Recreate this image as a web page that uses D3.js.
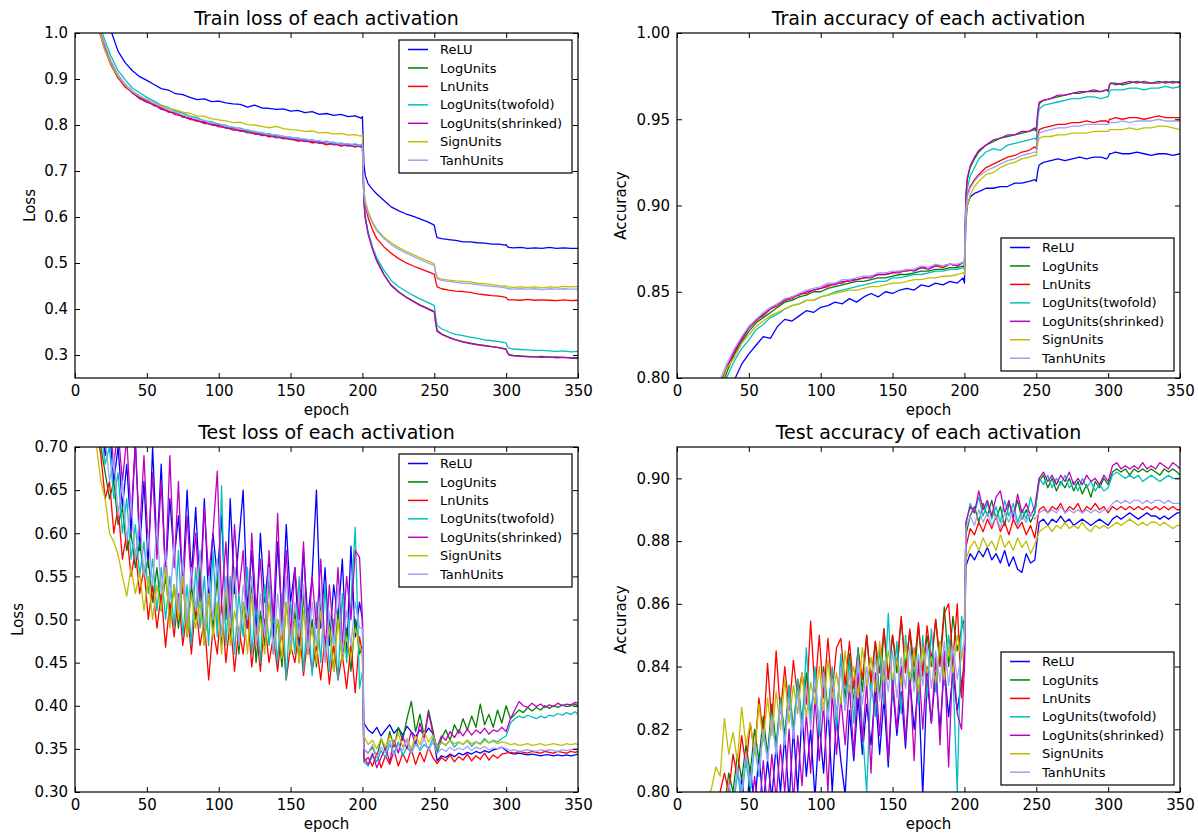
<!DOCTYPE html>
<html><head><meta charset="utf-8">
<script src="https://cdn.jsdelivr.net/npm/d3@7"></script>
<style>body{margin:0;background:#fff;} svg{display:block;font-family:"DejaVu Sans",sans-serif;}</style>
</head><body><svg id="chart" width="1198" height="836"></svg>
<script>
const seriesNames = ["ReLU","LogUnits","LnUnits","LogUnits(twofold)","LogUnits(shrinked)","SignUnits","TanhUnits"];
const seriesColors = ["#0000ff","#008000","#ff0000","#00bfbf","#bf00bf","#bfbf00","#a0a0f5"];
const xTickValues = [0,50,100,150,200,250,300,350];
const trainLossTicks = [0.3,0.4,0.5,0.6,0.7,0.8,0.9,1.0];
const trainAccTicks = [0.80,0.85,0.90,0.95,1.00];
const testLossTicks = [0.30,0.35,0.40,0.45,0.50,0.55,0.60,0.65,0.70];
const testAccTicks = [0.80,0.82,0.84,0.86,0.88,0.90];

const trainEpochs = [0,5,10,15,20,25,30,35,40,45, 50,55,60,65,70,75,80,85,90,95, 100,105,110,115,120,125,130,135,140,145, 150,155,160,165,170,175,180,185,190,195, 199,
 200,201,202,204,207,210,215,220,225,230,235,240,245,249,
 250,251,252,255,260,265,270,275,280,285,290,295,299,
 300,301,302,305,310,315,320,325,330,335,340,345,350];
const testEpochs = [0,3,6,9,12,15,18,21,24,27, 30,33,36,39,42,45,48,51,54,57, 60,63,66,69,72,75,78,81,84,87, 90,93,96,99,102,105,108,111,114,117, 120,123,126,129,132,135,138,141,144,147, 150,153,156,159,162,165,168,171,174,177, 180,183,186,189,192,195,198,
 200,
 201,204,207,210,213,216,219,222,225,228,231,234,237,240,243,246,249,
 252,255,258,261,264,267,270,273,276,279,282,285,288,291,294,297,300,
 303,306,309,312,315,318,321,324,327,330,333,336,339,342,345,348,350];

// ---------- Train loss ----------
const trainLossReLU = [1.60,1.35,1.20,1.10,1.04,1.005,0.960,0.935,0.918,0.905,
 0.897,0.888,0.879,0.876,0.868,0.866,0.860,0.855,0.857,0.851,
 0.852,0.848,0.846,0.845,0.839,0.843,0.837,0.836,0.834,0.835,
 0.830,0.832,0.827,0.829,0.823,0.825,0.821,0.823,0.818,0.820, 0.815,
 0.818,0.715,0.690,0.672,0.660,0.650,0.636,0.622,0.614,0.607,0.602,0.596,0.590,0.584,
 0.582,0.566,0.555,0.553,0.551,0.549,0.546,0.546,0.544,0.543,0.541,0.541,0.539,
 0.540,0.535,0.534,0.533,0.534,0.532,0.533,0.532,0.534,0.532,0.533,0.532,0.532];
const trainLossLog = [1.50,1.28,1.13,1.03,0.975,0.935,0.905,0.885,0.872,0.860,
 0.852,0.843,0.837,0.829,0.826,0.818,0.814,0.809,0.806,0.801,
 0.799,0.794,0.792,0.787,0.786,0.781,0.780,0.775,0.776,0.771,
 0.770,0.766,0.767,0.762,0.763,0.758,0.760,0.755,0.757,0.753, 0.755,
 0.752,0.640,0.600,0.565,0.532,0.506,0.475,0.452,0.438,0.427,0.418,0.409,0.402,0.396,
 0.395,0.370,0.353,0.346,0.339,0.333,0.329,0.326,0.323,0.321,0.318,0.316,0.314,
 0.313,0.305,0.301,0.299,0.298,0.297,0.296,0.297,0.295,0.296,0.295,0.294,0.294];
const trainLossLn = [1.48,1.27,1.12,1.025,0.970,0.930,0.903,0.882,0.871,0.857,
 0.853,0.842,0.838,0.828,0.827,0.817,0.815,0.808,0.807,0.800,
 0.800,0.793,0.793,0.786,0.788,0.780,0.781,0.774,0.777,0.770,
 0.772,0.765,0.767,0.761,0.763,0.757,0.761,0.754,0.758,0.752, 0.756,
 0.754,0.655,0.625,0.598,0.572,0.553,0.535,0.521,0.510,0.501,0.494,0.488,0.482,0.477,
 0.476,0.460,0.448,0.444,0.441,0.439,0.438,0.436,0.433,0.431,0.429,0.428,0.426,
 0.425,0.421,0.420,0.420,0.419,0.421,0.419,0.420,0.419,0.418,0.420,0.418,0.419];
const trainLossTwofold = [1.55,1.31,1.16,1.05,0.990,0.950,0.918,0.898,0.880,0.870,
 0.860,0.852,0.843,0.838,0.830,0.826,0.819,0.816,0.809,0.807,
 0.802,0.799,0.794,0.793,0.787,0.786,0.781,0.781,0.776,0.776,
 0.771,0.772,0.767,0.768,0.763,0.765,0.759,0.761,0.756,0.759, 0.755,
 0.760,0.632,0.598,0.566,0.535,0.511,0.484,0.462,0.449,0.439,0.430,0.422,0.415,0.409,
 0.408,0.382,0.364,0.357,0.350,0.345,0.342,0.339,0.336,0.333,0.331,0.329,0.327,
 0.326,0.318,0.315,0.313,0.312,0.311,0.310,0.310,0.309,0.308,0.309,0.307,0.308];
const trainLossShrinked = [1.52,1.29,1.14,1.035,0.978,0.932,0.902,0.886,0.869,0.858,
 0.849,0.845,0.834,0.831,0.822,0.820,0.812,0.811,0.803,0.803,
 0.796,0.795,0.789,0.789,0.783,0.783,0.777,0.778,0.772,0.773,
 0.768,0.769,0.764,0.765,0.760,0.762,0.757,0.758,0.754,0.756, 0.752,
 0.758,0.635,0.596,0.562,0.530,0.504,0.474,0.451,0.437,0.426,0.417,0.408,0.401,0.395,
 0.394,0.368,0.351,0.345,0.338,0.333,0.328,0.325,0.322,0.320,0.318,0.316,0.313,
 0.312,0.304,0.300,0.298,0.297,0.296,0.296,0.295,0.296,0.294,0.295,0.293,0.292];
const trainLossSign = [1.50,1.27,1.12,1.03,0.970,0.932,0.905,0.886,0.872,0.862,
 0.855,0.848,0.842,0.836,0.833,0.828,0.825,0.820,0.819,0.814,
 0.811,0.809,0.805,0.806,0.801,0.800,0.797,0.794,0.797,0.792,
 0.790,0.789,0.786,0.787,0.783,0.784,0.780,0.782,0.778,0.779, 0.776,
 0.779,0.660,0.635,0.612,0.590,0.573,0.556,0.544,0.534,0.526,0.519,0.512,0.505,0.500,
 0.498,0.480,0.469,0.465,0.463,0.461,0.460,0.459,0.456,0.455,0.453,0.451,0.450,
 0.450,0.448,0.448,0.447,0.448,0.447,0.448,0.446,0.448,0.447,0.449,0.448,0.449];
const trainLossTanh = [1.53,1.30,1.15,1.04,0.982,0.940,0.910,0.889,0.874,0.864,
 0.855,0.847,0.840,0.833,0.828,0.822,0.818,0.812,0.810,0.804,
 0.803,0.797,0.796,0.791,0.790,0.785,0.784,0.779,0.779,0.775,
 0.774,0.770,0.770,0.766,0.766,0.762,0.763,0.758,0.760,0.755, 0.757,
 0.757,0.650,0.628,0.607,0.586,0.570,0.553,0.540,0.530,0.522,0.515,0.508,0.501,0.496,
 0.495,0.477,0.466,0.462,0.460,0.458,0.456,0.455,0.453,0.451,0.449,0.448,0.446,
 0.446,0.444,0.444,0.443,0.444,0.443,0.444,0.442,0.444,0.443,0.444,0.443,0.443];

// ---------- Train accuracy ----------
const trainAccReLU = [0.45,0.58,0.65,0.70,0.735,0.760,0.778,0.791,0.799,0.808,
 0.814,0.819,0.824,0.823,0.830,0.834,0.833,0.836,0.839,0.838,
 0.841,0.842,0.844,0.843,0.846,0.844,0.847,0.849,0.847,0.850,
 0.849,0.851,0.852,0.851,0.854,0.853,0.855,0.854,0.856,0.855, 0.858,
 0.855,0.890,0.900,0.905,0.907,0.908,0.910,0.910,0.911,0.911,0.913,0.913,0.914,0.915,
 0.914,0.920,0.9235,0.925,0.926,0.927,0.926,0.927,0.928,0.927,0.928,0.928,0.927,
 0.928,0.930,0.930,0.931,0.930,0.930,0.931,0.930,0.929,0.930,0.930,0.929,0.930];
const trainAccLog = [0.48,0.61,0.68,0.725,0.757,0.778,0.793,0.804,0.814,0.821,
 0.827,0.832,0.835,0.838,0.841,0.844,0.845,0.847,0.848,0.850,
 0.850,0.852,0.853,0.854,0.855,0.856,0.856,0.857,0.858,0.858,
 0.859,0.860,0.860,0.861,0.862,0.862,0.863,0.863,0.864,0.864, 0.865,
 0.864,0.905,0.915,0.922,0.927,0.931,0.935,0.937,0.939,0.940,0.941,0.942,0.943,0.944,
 0.943,0.953,0.959,0.961,0.962,0.963,0.964,0.965,0.965,0.966,0.966,0.966,0.967,
 0.966,0.970,0.971,0.971,0.970,0.971,0.972,0.971,0.971,0.972,0.971,0.972,0.971];
const trainAccLn = [0.49,0.62,0.69,0.732,0.762,0.782,0.796,0.807,0.815,0.823,
 0.829,0.833,0.837,0.840,0.842,0.845,0.846,0.849,0.849,0.851,
 0.852,0.853,0.855,0.855,0.857,0.857,0.858,0.859,0.860,0.860,
 0.861,0.862,0.862,0.863,0.864,0.864,0.865,0.864,0.866,0.865, 0.867,
 0.866,0.898,0.906,0.911,0.915,0.918,0.922,0.924,0.926,0.928,0.929,0.931,0.932,0.934,
 0.933,0.940,0.944,0.945,0.946,0.947,0.947,0.948,0.948,0.949,0.948,0.949,0.949,
 0.948,0.950,0.950,0.951,0.950,0.951,0.951,0.950,0.951,0.952,0.951,0.951,0.951];
const trainAccTwofold = [0.47,0.60,0.67,0.72,0.752,0.774,0.790,0.801,0.810,0.817,
 0.822,0.828,0.831,0.835,0.837,0.840,0.842,0.843,0.845,0.845,
 0.847,0.848,0.850,0.851,0.852,0.853,0.854,0.855,0.856,0.856,
 0.858,0.858,0.859,0.860,0.860,0.861,0.862,0.862,0.863,0.863, 0.864,
 0.863,0.900,0.910,0.917,0.922,0.927,0.931,0.933,0.932,0.935,0.936,0.937,0.938,0.939,
 0.938,0.950,0.956,0.958,0.959,0.960,0.961,0.962,0.962,0.963,0.963,0.962,0.963,
 0.963,0.966,0.967,0.967,0.967,0.968,0.968,0.967,0.968,0.968,0.969,0.968,0.969];
const trainAccShrinked = [0.49,0.62,0.69,0.733,0.763,0.783,0.797,0.806,0.816,0.822,
 0.829,0.834,0.836,0.840,0.843,0.845,0.847,0.848,0.850,0.851,
 0.852,0.854,0.854,0.856,0.856,0.857,0.858,0.858,0.860,0.860,
 0.861,0.861,0.863,0.862,0.864,0.863,0.865,0.865,0.866,0.865, 0.867,
 0.866,0.906,0.916,0.923,0.928,0.932,0.935,0.938,0.939,0.941,0.941,0.943,0.943,0.945,
 0.944,0.954,0.960,0.961,0.962,0.964,0.964,0.965,0.966,0.966,0.967,0.966,0.967,
 0.967,0.970,0.971,0.970,0.971,0.972,0.971,0.972,0.971,0.971,0.972,0.971,0.972];
const trainAccSign = [0.48,0.61,0.68,0.728,0.760,0.781,0.795,0.806,0.812,0.820,
 0.825,0.830,0.833,0.836,0.838,0.840,0.842,0.843,0.845,0.845,
 0.847,0.848,0.849,0.850,0.851,0.851,0.852,0.853,0.853,0.854,
 0.855,0.855,0.856,0.857,0.857,0.858,0.858,0.859,0.859,0.860, 0.861,
 0.860,0.893,0.900,0.906,0.911,0.914,0.918,0.919,0.922,0.924,0.925,0.927,0.928,0.929,
 0.929,0.936,0.939,0.940,0.940,0.941,0.941,0.942,0.942,0.942,0.943,0.943,0.943,
 0.943,0.944,0.944,0.944,0.944,0.945,0.944,0.945,0.945,0.946,0.946,0.945,0.944];
const trainAccTanh = [0.50,0.63,0.70,0.738,0.766,0.785,0.799,0.809,0.817,0.824,
 0.830,0.834,0.838,0.841,0.843,0.846,0.847,0.849,0.851,0.852,
 0.853,0.855,0.855,0.857,0.857,0.858,0.859,0.859,0.861,0.861,
 0.862,0.862,0.863,0.863,0.865,0.864,0.866,0.865,0.866,0.866, 0.867,
 0.866,0.898,0.905,0.910,0.914,0.917,0.920,0.922,0.924,0.926,0.927,0.929,0.930,0.931,
 0.931,0.938,0.942,0.943,0.944,0.945,0.945,0.946,0.946,0.947,0.947,0.947,0.947,
 0.947,0.948,0.948,0.948,0.949,0.948,0.949,0.949,0.949,0.950,0.949,0.949,0.949];

// ---------- Test loss ----------
const testLossReLU = [1.40,1.10,0.95,0.86,0.80,0.76,0.74,0.69,0.72,0.66,
 0.70,0.63,0.68,0.60,0.71,0.58,0.66,0.56,0.70,0.58,
 0.68,0.55,0.64,0.57,0.62,0.54,0.65,0.55,0.63,0.53,
 0.64,0.52,0.60,0.55,0.62,0.50,0.64,0.53,0.59,0.65,
 0.51,0.58,0.49,0.60,0.52,0.57,0.48,0.59,0.50,0.61,
 0.52,0.56,0.47,0.58,0.50,0.55,0.65,0.49,0.56,0.47,
 0.54,0.50,0.57,0.46,0.585,0.48,0.52,
 0.50,
 0.38,0.372,0.368,0.375,0.365,0.372,0.378,0.368,0.374,0.366,0.376,0.370,0.364,0.372,0.366,0.374,0.368,
 0.336,0.342,0.340,0.344,0.341,0.345,0.343,0.346,0.344,0.347,0.345,0.348,0.346,0.349,0.350,0.352,0.348,
 0.345,0.344,0.345,0.344,0.343,0.344,0.343,0.342,0.343,0.343,0.342,0.343,0.342,0.343,0.342,0.343,0.344];
const testLossLog = [1.35,1.05,0.92,0.84,0.78,0.74,0.70,0.67,0.64,0.66,
 0.61,0.63,0.58,0.60,0.56,0.59,0.55,0.57,0.52,0.56,
 0.51,0.55,0.50,0.54,0.49,0.55,0.48,0.54,0.50,0.56,
 0.47,0.53,0.49,0.55,0.47,0.53,0.48,0.56,0.46,0.52,
 0.49,0.54,0.45,0.51,0.47,0.55,0.46,0.50,0.445,0.52,
 0.47,0.51,0.45,0.53,0.46,0.50,0.445,0.52,0.46,0.50,
 0.44,0.51,0.455,0.49,0.44,0.50,0.46,
 0.47,
 0.35,0.345,0.352,0.340,0.362,0.348,0.37,0.352,0.375,0.36,0.385,0.405,0.37,0.39,0.365,0.395,0.372,
 0.345,0.362,0.372,0.36,0.378,0.368,0.385,0.372,0.388,0.375,0.402,0.378,0.39,0.375,0.395,0.38,0.40,
 0.385,0.39,0.395,0.392,0.398,0.394,0.398,0.395,0.40,0.397,0.40,0.398,0.401,0.399,0.40,0.402,0.40];
const testLossLn = [1.30,1.02,0.90,0.82,0.76,0.72,0.69,0.64,0.66,0.60,
 0.63,0.57,0.60,0.55,0.58,0.53,0.56,0.50,0.54,0.49,
 0.53,0.468,0.52,0.48,0.53,0.47,0.51,0.46,0.52,0.47,
 0.50,0.43,0.49,0.46,0.52,0.45,0.50,0.44,0.49,0.46,
 0.51,0.445,0.49,0.44,0.50,0.45,0.48,0.44,0.49,0.43,
 0.47,0.45,0.49,0.435,0.48,0.44,0.47,0.43,0.48,0.425,
 0.47,0.43,0.46,0.42,0.47,0.415,0.48,
 0.46,
 0.335,0.34,0.33,0.345,0.328,0.342,0.332,0.348,0.33,0.345,0.334,0.35,0.332,0.346,0.335,0.352,0.34,
 0.333,0.34,0.336,0.343,0.335,0.341,0.337,0.344,0.336,0.342,0.338,0.345,0.337,0.343,0.339,0.344,0.345,
 0.346,0.345,0.347,0.346,0.345,0.347,0.346,0.345,0.347,0.346,0.345,0.347,0.346,0.345,0.347,0.346,0.347];
const testLossTwofold = [1.38,1.08,0.94,0.85,0.79,0.75,0.72,0.68,0.70,0.64,
 0.67,0.60,0.64,0.57,0.61,0.55,0.59,0.53,0.57,0.51,
 0.56,0.50,0.55,0.49,0.58,0.48,0.54,0.47,0.56,0.49,
 0.55,0.47,0.58,0.48,0.655,0.47,0.55,0.46,0.53,0.48,
 0.56,0.46,0.52,0.45,0.54,0.47,0.51,0.45,0.53,0.43,
 0.52,0.46,0.55,0.44,0.51,0.435,0.52,0.45,0.54,0.44,
 0.50,0.43,0.53,0.45,0.52,0.607,0.42,
 0.44,
 0.335,0.33,0.342,0.335,0.348,0.34,0.355,0.345,0.358,0.342,0.352,0.345,0.36,0.348,0.355,0.35,0.362,
 0.35,0.358,0.354,0.36,0.352,0.358,0.355,0.36,0.353,0.358,0.356,0.362,0.357,0.36,0.358,0.362,0.365,
 0.38,0.385,0.388,0.386,0.389,0.387,0.385,0.388,0.386,0.389,0.388,0.391,0.389,0.392,0.39,0.393,0.39];
const testLossShrinked = [1.45,1.12,0.97,0.88,0.81,0.77,0.74,0.70,0.73,0.68,
 0.72,0.66,0.71,0.62,0.70,0.60,0.69,0.58,0.67,0.57,
 0.66,0.55,0.69,0.56,0.66,0.53,0.62,0.54,0.60,0.52,
 0.63,0.55,0.60,0.672,0.52,0.59,0.50,0.61,0.53,0.58,
 0.49,0.60,0.51,0.57,0.48,0.58,0.50,0.623,0.49,0.58,
 0.48,0.56,0.50,0.59,0.47,0.55,0.49,0.57,0.46,0.54,
 0.48,0.56,0.47,0.55,0.50,0.58,0.572,
 0.50,
 0.34,0.332,0.345,0.328,0.34,0.352,0.335,0.36,0.345,0.365,0.35,0.37,0.355,0.38,0.362,0.392,0.368,
 0.352,0.365,0.36,0.37,0.363,0.372,0.365,0.373,0.366,0.372,0.368,0.374,0.367,0.372,0.37,0.375,0.37,
 0.385,0.395,0.405,0.40,0.398,0.403,0.399,0.402,0.398,0.401,0.399,0.403,0.40,0.402,0.401,0.404,0.403];
const testLossSign = [1.20,0.95,0.84,0.77,0.73,0.70,0.66,0.64,0.60,0.59,
 0.575,0.55,0.527,0.56,0.53,0.555,0.51,0.55,0.50,0.54,
 0.51,0.56,0.49,0.54,0.50,0.55,0.48,0.53,0.49,0.52,
 0.47,0.53,0.48,0.52,0.46,0.54,0.47,0.51,0.48,0.52,
 0.46,0.53,0.47,0.50,0.46,0.52,0.47,0.50,0.455,0.52,
 0.46,0.50,0.45,0.51,0.46,0.49,0.45,0.51,0.46,0.49,
 0.44,0.50,0.45,0.48,0.455,0.49,0.47,
 0.46,
 0.365,0.355,0.36,0.35,0.362,0.352,0.365,0.355,0.368,0.352,0.362,0.35,0.365,0.355,0.37,0.358,0.366,
 0.352,0.357,0.355,0.36,0.356,0.358,0.355,0.36,0.356,0.358,0.355,0.36,0.357,0.359,0.356,0.358,0.357,
 0.355,0.356,0.354,0.355,0.356,0.354,0.355,0.356,0.354,0.355,0.356,0.355,0.354,0.356,0.355,0.356,0.355];
const testLossTanh = [1.42,1.10,0.96,0.87,0.80,0.76,0.73,0.71,0.66,0.69,
 0.62,0.66,0.59,0.64,0.57,0.62,0.55,0.60,0.54,0.61,
 0.53,0.58,0.52,0.59,0.51,0.57,0.50,0.56,0.51,0.58,
 0.49,0.55,0.50,0.57,0.48,0.55,0.49,0.56,0.47,0.54,
 0.50,0.55,0.47,0.53,0.48,0.56,0.46,0.53,0.48,0.55,
 0.47,0.52,0.48,0.54,0.46,0.52,0.47,0.53,0.45,0.51,
 0.47,0.54,0.46,0.51,0.47,0.52,0.49,
 0.49,
 0.35,0.345,0.355,0.34,0.352,0.345,0.36,0.342,0.355,0.348,0.36,0.345,0.355,0.35,0.362,0.348,0.358,
 0.345,0.35,0.347,0.352,0.348,0.351,0.349,0.353,0.348,0.352,0.35,0.353,0.349,0.351,0.35,0.352,0.35,
 0.348,0.349,0.347,0.348,0.349,0.348,0.347,0.349,0.348,0.349,0.348,0.347,0.349,0.348,0.349,0.35,0.35];

// ---------- Test accuracy ----------
const testAccReLU = [0.55,0.65,0.70,0.73,0.75,0.765,0.775,0.78,0.785,0.79,
 0.782,0.795,0.788,0.80,0.79,0.805,0.792,0.808,0.795,0.812,
 0.796,0.81,0.798,0.815,0.80,0.818,0.797,0.82,0.80,0.825,
 0.805,0.82,0.798,0.822,0.806,0.828,0.80,0.824,0.81,0.799,
 0.826,0.81,0.83,0.812,0.828,0.815,0.832,0.812,0.83,0.808,
 0.834,0.818,0.832,0.814,0.836,0.82,0.834,0.799,0.836,0.822,
 0.838,0.82,0.84,0.824,0.838,0.826,0.835,
 0.84,
 0.872,0.876,0.874,0.877,0.875,0.878,0.874,0.876,0.873,0.877,0.872,0.875,0.871,0.870,0.876,0.873,0.874,
 0.886,0.887,0.885,0.887,0.886,0.888,0.886,0.887,0.885,0.886,0.887,0.886,0.885,0.886,0.887,0.886,0.885,
 0.887,0.888,0.887,0.888,0.889,0.888,0.887,0.888,0.889,0.888,0.888,0.887,0.888,0.887,0.888,0.889,0.889];
const testAccLog = [0.58,0.68,0.72,0.75,0.77,0.78,0.785,0.79,0.796,0.79,
 0.80,0.795,0.806,0.80,0.812,0.804,0.815,0.806,0.82,0.81,
 0.824,0.812,0.828,0.815,0.83,0.818,0.834,0.82,0.836,0.822,
 0.838,0.825,0.835,0.82,0.84,0.826,0.838,0.824,0.842,0.83,
 0.844,0.828,0.846,0.832,0.85,0.834,0.848,0.83,0.852,0.836,
 0.85,0.838,0.855,0.84,0.851,0.835,0.853,0.838,0.85,0.84,
 0.855,0.842,0.859,0.84,0.856,0.845,0.852,
 0.855,
 0.882,0.888,0.891,0.886,0.892,0.888,0.893,0.887,0.891,0.885,0.892,0.888,0.893,0.887,0.890,0.886,0.889,
 0.899,0.901,0.897,0.900,0.896,0.899,0.897,0.900,0.896,0.899,0.895,0.898,0.894,0.899,0.897,0.900,0.898,
 0.902,0.903,0.902,0.903,0.901,0.903,0.902,0.903,0.902,0.903,0.902,0.901,0.903,0.902,0.903,0.902,0.901];
const testAccLn = [0.60,0.69,0.73,0.76,0.775,0.785,0.79,0.792,0.797,0.795,
 0.80,0.806,0.80,0.812,0.805,0.818,0.808,0.822,0.812,0.83,
 0.818,0.841,0.822,0.845,0.825,0.84,0.826,0.842,0.83,0.838,
 0.828,0.8545,0.832,0.85,0.83,0.849,0.832,0.846,0.849,0.834,
 0.848,0.833,0.845,0.836,0.85,0.835,0.848,0.838,0.852,0.836,
 0.85,0.84,0.856,0.838,0.852,0.84,0.854,0.837,0.853,0.842,
 0.855,0.84,0.857,0.86,0.842,0.86,0.83,
 0.845,
 0.878,0.884,0.882,0.886,0.883,0.887,0.884,0.888,0.883,0.886,0.882,0.887,0.884,0.886,0.882,0.885,0.881,
 0.890,0.891,0.889,0.891,0.890,0.892,0.889,0.891,0.890,0.892,0.889,0.891,0.890,0.892,0.890,0.891,0.889,
 0.891,0.890,0.891,0.890,0.891,0.890,0.891,0.890,0.891,0.890,0.891,0.890,0.891,0.890,0.891,0.890,0.890];
const testAccTwofold = [0.56,0.66,0.71,0.74,0.76,0.772,0.78,0.785,0.79,0.784,
 0.795,0.79,0.80,0.794,0.806,0.798,0.81,0.80,0.815,0.805,
 0.82,0.81,0.825,0.812,0.83,0.815,0.834,0.818,0.836,0.82,
 0.846,0.822,0.84,0.818,0.838,0.824,0.84,0.82,0.844,0.826,
 0.842,0.822,0.845,0.82,0.80,0.835,0.824,0.846,0.828,0.857,
 0.83,0.848,0.825,0.85,0.832,0.846,0.828,0.85,0.83,0.852,
 0.832,0.848,0.834,0.85,0.838,0.80,0.856,
 0.85,
 0.885,0.892,0.889,0.894,0.888,0.892,0.887,0.891,0.886,0.893,0.888,0.892,0.886,0.890,0.887,0.894,0.889,
 0.900,0.898,0.901,0.897,0.900,0.898,0.901,0.897,0.899,0.896,0.900,0.897,0.899,0.896,0.898,0.896,0.897,
 0.901,0.902,0.901,0.900,0.901,0.900,0.901,0.899,0.900,0.901,0.900,0.899,0.900,0.901,0.900,0.900,0.900];
const testAccShrinked = [0.52,0.63,0.68,0.72,0.74,0.755,0.765,0.77,0.778,0.77,
 0.785,0.776,0.79,0.78,0.797,0.785,0.80,0.79,0.805,0.792,
 0.81,0.795,0.812,0.798,0.815,0.80,0.82,0.797,0.818,0.802,
 0.825,0.806,0.83,0.81,0.828,0.80,0.832,0.812,0.83,0.815,
 0.834,0.812,0.838,0.816,0.835,0.806,0.838,0.818,0.84,0.81,
 0.836,0.82,0.84,0.816,0.838,0.81,0.842,0.82,0.84,0.822,
 0.843,0.815,0.845,0.808,0.844,0.825,0.82,
 0.84,
 0.886,0.891,0.889,0.896,0.890,0.893,0.888,0.894,0.896,0.889,0.893,0.887,0.895,0.889,0.892,0.888,0.891,
 0.900,0.902,0.899,0.901,0.898,0.901,0.899,0.902,0.898,0.900,0.898,0.901,0.899,0.900,0.898,0.901,0.899,
 0.904,0.905,0.903,0.904,0.903,0.904,0.903,0.905,0.903,0.904,0.903,0.905,0.904,0.903,0.905,0.904,0.903];
const testAccSign = [0.62,0.71,0.75,0.77,0.782,0.79,0.795,0.798,0.801,0.808,
 0.805,0.8235,0.812,0.819,0.81,0.827,0.815,0.822,0.812,0.828,
 0.816,0.83,0.818,0.832,0.82,0.836,0.822,0.834,0.825,0.838,
 0.824,0.835,0.828,0.84,0.826,0.842,0.83,0.838,0.828,0.845,
 0.832,0.84,0.83,0.846,0.834,0.843,0.832,0.848,0.835,0.845,
 0.836,0.842,0.834,0.847,0.836,0.845,0.832,0.846,0.838,0.843,
 0.835,0.848,0.836,0.846,0.838,0.85,0.842,
 0.848,
 0.874,0.878,0.880,0.877,0.881,0.878,0.880,0.877,0.882,0.878,0.880,0.877,0.881,0.878,0.880,0.876,0.879,
 0.883,0.884,0.885,0.883,0.885,0.884,0.886,0.884,0.885,0.884,0.886,0.884,0.883,0.885,0.884,0.885,0.884,
 0.885,0.886,0.885,0.886,0.887,0.886,0.885,0.886,0.885,0.886,0.886,0.885,0.886,0.885,0.884,0.885,0.885];
const testAccTanh = [0.57,0.67,0.715,0.745,0.765,0.775,0.783,0.788,0.792,0.786,
 0.798,0.792,0.803,0.796,0.808,0.80,0.812,0.803,0.816,0.806,
 0.82,0.81,0.824,0.812,0.828,0.815,0.83,0.817,0.832,0.819,
 0.834,0.82,0.836,0.822,0.838,0.823,0.836,0.824,0.84,0.826,
 0.838,0.827,0.842,0.828,0.84,0.83,0.843,0.829,0.842,0.832,
 0.845,0.83,0.843,0.833,0.846,0.832,0.844,0.834,0.847,0.833,
 0.845,0.835,0.848,0.834,0.846,0.836,0.844,
 0.848,
 0.884,0.888,0.885,0.890,0.886,0.889,0.885,0.888,0.884,0.889,0.886,0.890,0.885,0.888,0.886,0.889,0.887,
 0.889,0.890,0.889,0.890,0.889,0.891,0.889,0.890,0.889,0.890,0.889,0.890,0.889,0.890,0.889,0.890,0.890,
 0.892,0.893,0.892,0.893,0.892,0.893,0.893,0.892,0.893,0.892,0.893,0.893,0.892,0.893,0.892,0.892,0.892];

// ---------- layout ----------
const panels = [
  {title:"Train loss of each activation", ylabel:"Loss", left:75, top:33, width:503, height:345,
   ydomain:[0.25,1.0], ticks:trainLossTicks, fmt:".1f", epochs:trainEpochs,
   data:[trainLossReLU,trainLossLog,trainLossLn,trainLossTwofold,trainLossShrinked,trainLossSign,trainLossTanh],
   legendAt:"top", ylabelX:35},
  {title:"Train accuracy of each activation", ylabel:"Accuracy", left:677, top:33, width:503, height:345,
   ydomain:[0.80,1.00], ticks:trainAccTicks, fmt:".2f", epochs:trainEpochs,
   data:[trainAccReLU,trainAccLog,trainAccLn,trainAccTwofold,trainAccShrinked,trainAccSign,trainAccTanh],
   legendAt:"bottom", ylabelX:626},
  {title:"Test loss of each activation", ylabel:"Loss", left:75, top:447, width:503, height:345,
   ydomain:[0.30,0.70], ticks:testLossTicks, fmt:".2f", epochs:testEpochs,
   data:[testLossReLU,testLossLog,testLossLn,testLossTwofold,testLossShrinked,testLossSign,testLossTanh],
   legendAt:"top", ylabelX:23},
  {title:"Test accuracy of each activation", ylabel:"Accuracy", left:677, top:447, width:503, height:345,
   ydomain:[0.80,0.91], ticks:testAccTicks, fmt:".2f", epochs:testEpochs,
   data:[testAccReLU,testAccLog,testAccLn,testAccTwofold,testAccShrinked,testAccSign,testAccTanh],
   legendAt:"bottom", ylabelX:626}
];

const svg = d3.select("#chart");
svg.append("rect").attr("width",1198).attr("height",836).attr("fill","#fff");

panels.forEach((p, pi) => {
  p.data.forEach((arr, si) => {
    if (arr.length !== p.epochs.length) throw new Error("length mismatch panel " + pi + " series " + si + ": " + arr.length + " vs " + p.epochs.length);
  });
  const x = d3.scaleLinear().domain([0,350]).range([0,p.width]);
  const y = d3.scaleLinear().domain(p.ydomain).range([p.height,0]);
  const g = svg.append("g").attr("transform",`translate(${p.left},${p.top})`);
  const clipId = "clip" + pi;
  g.append("clipPath").attr("id",clipId).append("rect").attr("width",p.width).attr("height",p.height);

  const line = d3.line().x(d => x(d[0])).y(d => y(d[1]));
  const lines = g.append("g").attr("clip-path",`url(#${clipId})`);
  p.data.forEach((arr, si) => {
    lines.append("path")
      .datum(p.epochs.map((e,i) => [e, arr[i]]))
      .attr("fill","none").attr("stroke",seriesColors[si])
      .attr("stroke-width",1.3).attr("stroke-linejoin","round")
      .attr("d",line);
  });

  const styleAxis = sel => {
    sel.select(".domain").remove();
    sel.selectAll(".tick line").attr("stroke","#000").attr("stroke-width",1);
    sel.selectAll(".tick text").attr("fill","#000").attr("font-size",15).attr("font-family","DejaVu Sans, sans-serif");
  };
  g.append("g").attr("transform",`translate(0,${p.height})`)
    .call(d3.axisBottom(x).tickValues(xTickValues).tickSize(-5).tickPadding(7).tickFormat(d3.format("d")))
    .call(styleAxis);
  g.append("g")
    .call(d3.axisTop(x).tickValues(xTickValues).tickSize(-5).tickFormat(""))
    .call(styleAxis);
  g.append("g")
    .call(d3.axisLeft(y).tickValues(p.ticks).tickSize(-5).tickPadding(7).tickFormat(d3.format(p.fmt)))
    .call(styleAxis);
  g.append("g").attr("transform",`translate(${p.width},0)`)
    .call(d3.axisRight(y).tickValues(p.ticks).tickSize(-5).tickFormat(""))
    .call(styleAxis);

  g.append("rect").attr("width",p.width).attr("height",p.height)
    .attr("fill","none").attr("stroke","#000").attr("stroke-width",1.2);

  // title & labels
  svg.append("text").attr("x",p.left + p.width/2).attr("y",p.top - 8)
    .attr("text-anchor","middle").attr("font-size",19).attr("fill","#000").text(p.title);
  svg.append("text").attr("x",p.left + p.width/2).attr("y",p.top + p.height + 37)
    .attr("text-anchor","middle").attr("font-size",15).attr("fill","#000").text("epoch");
  svg.append("text")
    .attr("transform",`translate(${p.ylabelX},${p.top + p.height/2}) rotate(-90)`)
    .attr("text-anchor","middle").attr("font-size",15).attr("fill","#000").text(p.ylabel);

  // legend
  const lw = 173, lh = 133;
  const lx = p.width - 6 - lw;
  const ly = p.legendAt === "top" ? 7 : p.height - 7 - lh;
  const lg = g.append("g").attr("transform",`translate(${lx},${ly})`);
  lg.append("rect").attr("width",lw).attr("height",lh).attr("fill","#fff")
    .attr("stroke","#000").attr("stroke-width",1.2);
  seriesNames.forEach((name, si) => {
    const ry = 9.5 + si*18.45;
    lg.append("line").attr("x1",9).attr("x2",29).attr("y1",ry).attr("y2",ry)
      .attr("stroke",seriesColors[si]).attr("stroke-width",1.5);
    lg.append("text").attr("x",41).attr("y",ry).attr("dy","0.35em")
      .attr("font-size",13).attr("fill","#000").text(name);
  });
});
</script></body></html>
